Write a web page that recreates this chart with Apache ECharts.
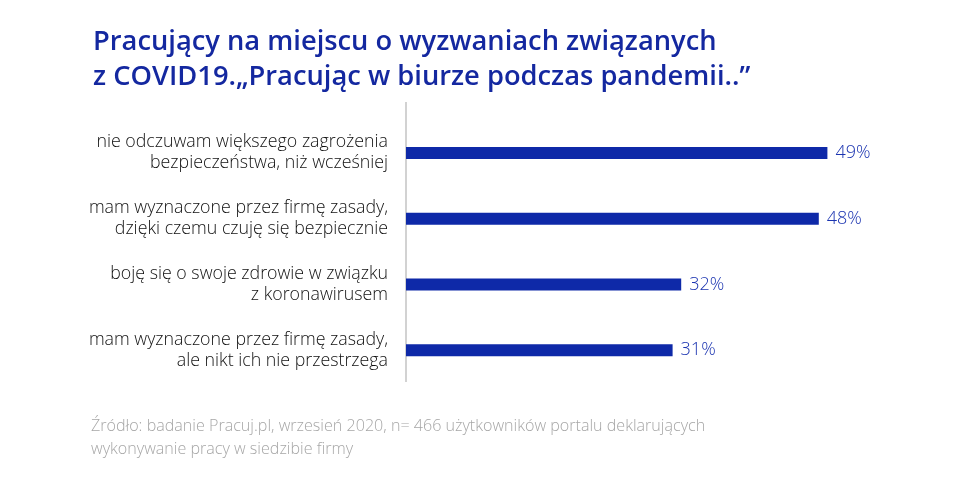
<!DOCTYPE html>
<html>
<head>
<meta charset="utf-8">
<script src="https://cdn.jsdelivr.net/npm/echarts@6/dist/echarts.min.js"></script>
<style>
  html, body { margin: 0; padding: 0; background: #fff; }
  #chart { width: 960px; height: 492px; }
</style>
</head>
<body>
<div id="chart"></div>
<script>
// categories from top to bottom
const categories = [
  "nie odczuwam większego zagrożenia\nbezpieczeństwa, niż wcześniej",
  "mam wyznaczone przez firmę zasady,\ndzięki czemu czuję się bezpiecznie",
  "boję się o swoje zdrowie w związku\nz koronawirusem",
  "mam wyznaczone przez firmę zasady,\nale nikt ich nie przestrzega"
];
const values = [49, 48, 32, 31];

const titleText = "Pracujący na miejscu o wyzwaniach związanych\nz COVID19.„Pracując w biurze podczas pandemii..”";
const sourceText = "Źródło: badanie Pracuj.pl, wrzesień 2020, n= 466 użytkowników portalu deklarujących\nwykonywanie pracy w siedzibie firmy";

const chart = echarts.init(document.getElementById("chart"));

const option = {
  backgroundColor: "#fff",
  animation: false,
  title: {
    text: titleText,
    left: 88,
    top: 20,
    textStyle: {
      fontFamily: "Open Sans",
      fontSize: 27.3,
      fontWeight: 600,
      color: "#1428a0",
      lineHeight: 35
    }
  },
  graphic: [
    {
      type: "line",
      shape: { x1: 406, y1: 102, x2: 406, y2: 382 },
      style: { stroke: "#d2d2d2", lineWidth: 2 }
    },
    {
      type: "text",
      left: 91,
      top: 415,
      style: {
        text: sourceText,
        font: "300 16.1px 'Open Sans'",
        fill: "#a6a6a6",
        lineHeight: 23
      }
    }
  ],
  grid: {
    left: 406,
    right: 38,
    top: 120,
    height: 263
  },
  xAxis: {
    type: "value",
    min: 0,
    max: 60,
    show: false
  },
  yAxis: {
    type: "category",
    data: categories,
    inverse: true,
    axisLine: { show: false },
    axisTick: { show: false },
    axisLabel: {
      margin: 18,
      fontFamily: "Open Sans",
      fontSize: 17.8,
      fontWeight: 300,
      color: "#111",
      lineHeight: 21,
      align: "right"
    }
  },
  series: [
    {
      type: "bar",
      data: values,
      barWidth: 12,
      itemStyle: { color: "#0e29a8" },
      label: {
        show: true,
        position: "right",
        distance: 8,
        formatter: "{c}%",
        fontFamily: "Open Sans",
        fontSize: 18,
        fontWeight: 300,
        color: "#1a33b0"
      }
    }
  ]
};

chart.setOption(option);
</script>
</body>
</html>
